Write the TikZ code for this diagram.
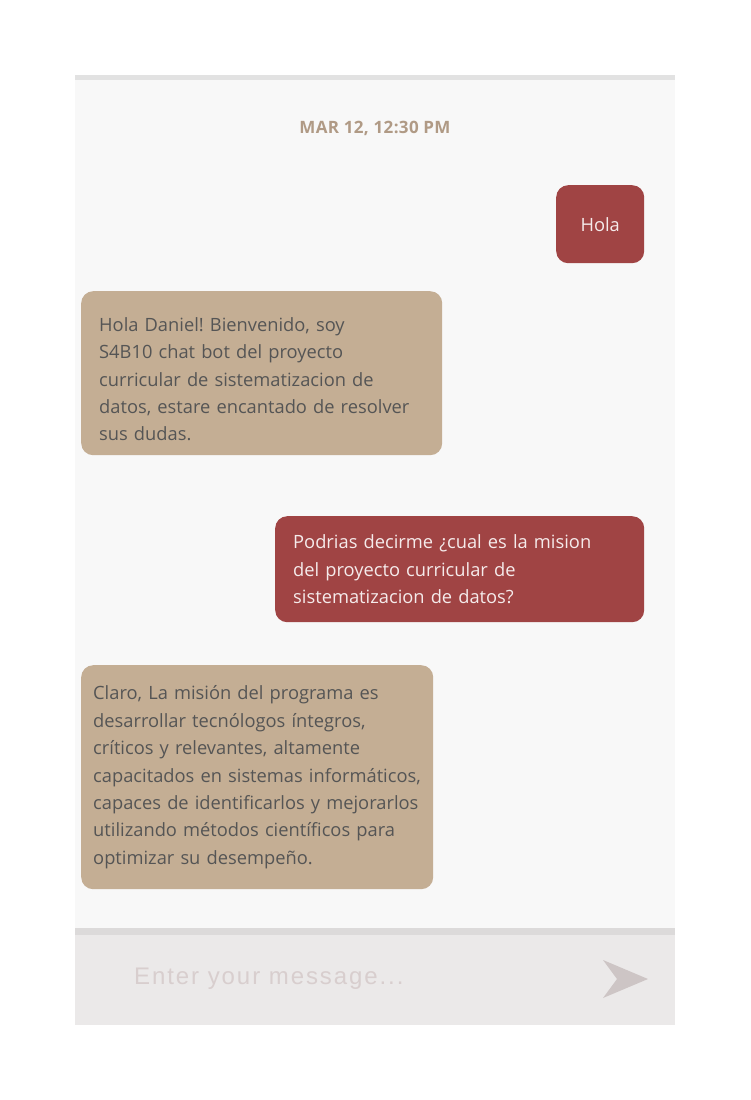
\documentclass[tikz,border=0pt]{standalone}
\usepackage{fontspec}
\usepackage{xcolor}
\usetikzlibrary{positioning}
\setmainfont{Open Sans}
\newfontfamily\inputfont[LetterSpace=8]{Liberation Sans}
\newfontfamily\stampfont[LetterSpace=2]{Open Sans}
\definecolor{chatred}{RGB}{160, 68, 68}
\definecolor{chattan}{RGB}{196, 174, 148}
\definecolor{datecol}{RGB}{176, 154, 133}
\definecolor{panelbg}{RGB}{248, 248, 248}
\definecolor{panelline}{RGB}{226, 226, 226}
\definecolor{inputbg}{RGB}{235, 233, 233}
\definecolor{inputline}{RGB}{220, 218, 218}
\definecolor{hintcol}{RGB}{216, 206, 206}
\definecolor{sendcol}{RGB}{205, 197, 197}
\definecolor{botink}{RGB}{85, 85, 85}
\definecolor{userink}{RGB}{245, 235, 235}
% one line of a message, never broken
\newcommand{\msgline}[1]{\mbox{#1}}

\begin{document}
\frenchspacing
\begin{tikzpicture}[x=1pt, y=-1pt,
    msg/.style={rounded corners=12pt, align=left, inner ysep=0pt, anchor=north west, font=\fontsize{18.3}{27.4}\selectfont},
    usermsg/.style={msg, fill=chatred, text=userink},
    botmsg/.style={msg, fill=chattan, text=botink}]
    % Page and panel
    \useasboundingbox[fill=white] (0,0) rectangle (750,1100);
    \fill[panelbg] (75,80) rectangle (675,928);
    \fill[panelline] (75,75) rectangle (675,80);
    \fill[inputline] (75,928) rectangle (675,935);
    \fill[inputbg] (75,935) rectangle (675,1025);

    % Timestamp
    \node[text=datecol, font=\stampfont\bfseries\fontsize{17}{20}\selectfont] (stamp) at (375,128) {MAR 12, 12:30 PM};

    % Messages
    \node[usermsg, align=center, inner xsep=0pt, minimum width=88pt, minimum height=78pt] (hola) at (556,185) {Hola};
    \node[botmsg, inner xsep=18pt, text width=325pt, minimum height=164pt] (welcome) at (81,291) {\rule{0pt}{26pt}\msgline{Hola Daniel! Bienvenido, soy}\\\msgline{S4B10 chat bot del proyecto}\\\msgline{curricular de sistematizacion de}\\\msgline{datos, estare encantado de resolver}\\\msgline{sus dudas.}};
    \node[usermsg, inner xsep=18pt, text width=333pt, minimum height=106pt] (question) at (275,516) {\msgline{Podrias decirme ¿cual es la mision}\\\msgline{del proyecto curricular de}\\\msgline{sistematizacion de datos?}};
    \node[botmsg, inner xsep=12pt, text width=328pt, minimum height=224pt] (answer) at (81,665) {\msgline{Claro, La misión del programa es}\\\msgline{desarrollar tecnólogos íntegros,}\\\msgline{críticos y relevantes, altamente}\\\msgline{capacitados en sistemas informáticos,}\\\msgline{capaces de identificarlos y mejorarlos}\\\msgline{utilizando métodos científicos para}\\\msgline{optimizar su desempeño.}};

    % Input bar
    \node[anchor=west, inner xsep=0pt, text=hintcol, font=\inputfont\fontsize{24}{28}\selectfont] (hint) at (134,979) {Enter your message...};
    \fill[sendcol] (603,960) -- (648,979) -- (603,998) -- (617,979) -- cycle;
\end{tikzpicture}
\end{document}
